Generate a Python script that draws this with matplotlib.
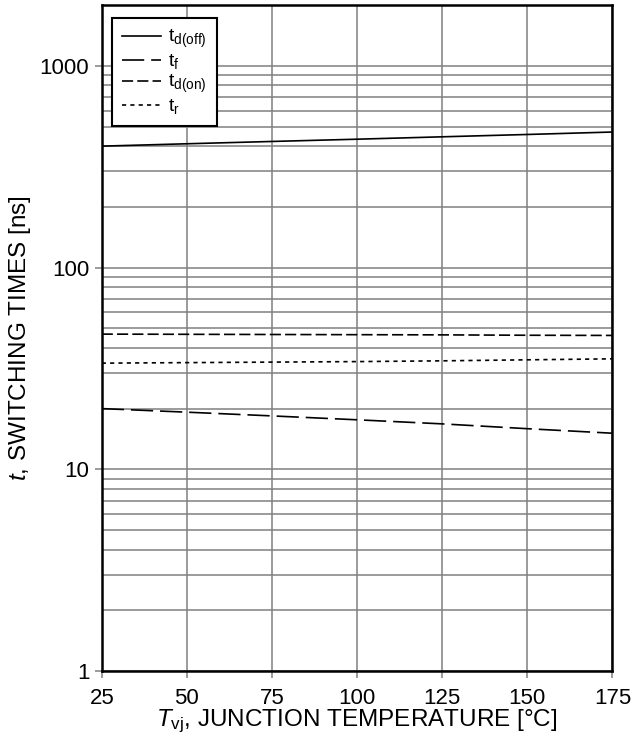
import matplotlib
matplotlib.use("Agg")
import matplotlib.pyplot as plt
import matplotlib.ticker as ticker
import numpy as np

# Data
temps = [25, 50, 75, 100, 125, 150, 175]
td_off = [400, 411, 422, 433, 445, 457, 470]
tf = [20.0, 19.2, 18.4, 17.6, 16.8, 15.9, 15.1]
td_on = [46.8, 46.7, 46.6, 46.5, 46.4, 46.2, 46.1]
tr = [33.6, 33.8, 34.0, 34.2, 34.5, 34.9, 35.3]

plt.rcParams['font.family'] = ['Liberation Sans', 'DejaVu Sans']
plt.rcParams['mathtext.fontset'] = 'custom'
plt.rcParams['mathtext.rm'] = 'Liberation Sans'
plt.rcParams['mathtext.it'] = 'Liberation Sans:italic'
plt.rcParams['lines.scale_dashes'] = False

fig = plt.figure(figsize=(6.4, 7.35), dpi=100)
ax = fig.add_axes([0.159, 0.087, 0.798, 0.906])

ax.plot(temps, td_off, color='black', lw=1.2, label=r'$\mathrm{t}_{\mathrm{d(off)}}$')
ax.plot(temps, tf, color='black', lw=1.2, dashes=(16, 5), label=r'$\mathrm{t}_{\mathrm{f}}$')
ax.plot(temps, td_on, color='black', lw=1.2, dashes=(8, 3), label=r'$\mathrm{t}_{\mathrm{d(on)}}$')
ax.plot(temps, tr, color='black', lw=1.2, dashes=(3, 3), label=r'$\mathrm{t}_{\mathrm{r}}$')

ax.set_yscale('log')
ax.set_xlim(25, 175)
ax.set_ylim(1, 2000)
ax.set_xticks(temps)
ax.yaxis.set_major_locator(ticker.FixedLocator([1, 10, 100, 1000]))
ax.yaxis.set_major_formatter(ticker.FixedFormatter(['1', '10', '100', '1000']))
ax.yaxis.set_minor_locator(ticker.LogLocator(base=10, subs=np.arange(2, 10)))
ax.yaxis.set_minor_formatter(ticker.NullFormatter())

ax.grid(True, which='both', color='#808080', lw=1.1)
ax.set_axisbelow(True)
ax.tick_params(which='major', direction='out', length=5, width=1.1, color='#808080',
               labelsize=16)
ax.tick_params(axis='y', pad=4)
ax.tick_params(axis='x', pad=7)
ax.tick_params(which='minor', length=0)
for s in ax.spines.values():
    s.set_linewidth(1.8)
    s.set_color('black')

ax.set_xlabel(r'$T_{\mathrm{vj}}$, JUNCTION TEMPERATURE [°C]', fontsize=17.5, labelpad=-1)
ax.set_ylabel(r'$t$, SWITCHING TIMES [ns]', fontsize=17.5, labelpad=5)

leg = ax.legend(loc='upper left', bbox_to_anchor=(0.02, 0.98), fontsize=14,
                fancybox=False, edgecolor='black', framealpha=1,
                handlelength=2.0, handletextpad=0.4, labelspacing=0.1,
                borderpad=0.5, borderaxespad=0)
leg.get_frame().set_linewidth(1.5)

fig.savefig('out.png', dpi=100)
